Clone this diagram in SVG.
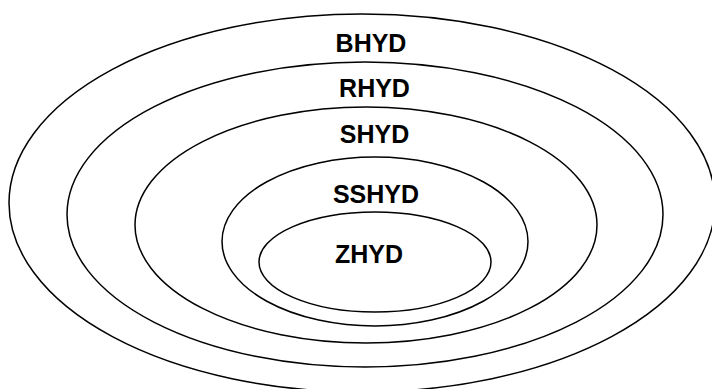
<svg xmlns="http://www.w3.org/2000/svg" width="712" height="389" viewBox="0 0 712 389">
<style>
.e{fill:none;stroke:#000;stroke-width:1.5}
.t{font-family:"Liberation Sans",Arial,sans-serif;font-weight:bold;font-size:25px;text-anchor:middle;fill:#000}
</style>
<rect width="712" height="389" fill="#fff"/>
<g id="BHYD"><ellipse class="e" cx="362" cy="203" rx="353" ry="189"/><text class="t" x="371" y="52">BHYD</text></g>
<g id="RHYD"><ellipse class="e" cx="365" cy="214.5" rx="298" ry="152.5"/><text class="t" x="374.5" y="97">RHYD</text></g>
<g id="SHYD"><ellipse class="e" cx="366" cy="225" rx="231" ry="118"/><text class="t" x="374.5" y="143">SHYD</text></g>
<g id="SSHYD"><ellipse class="e" cx="375" cy="241.5" rx="153" ry="84.5"/><text class="t" x="376" y="203">SSHYD</text></g>
<g id="ZHYD"><ellipse class="e" cx="375" cy="262" rx="116" ry="50"/><text class="t" x="369" y="263">ZHYD</text></g>
</svg>
